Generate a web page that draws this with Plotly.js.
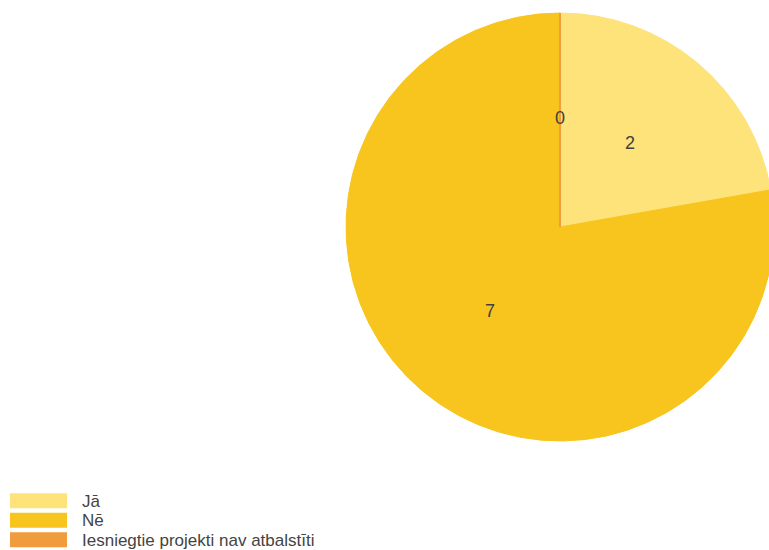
<!DOCTYPE html>
<html>
<head>
<meta charset="utf-8">
<script src="https://cdn.plot.ly/plotly-3.0.1.min.js"></script>
<style>
html,body{margin:0;padding:0;overflow:hidden;background:#fff;}
#chart{width:800px;height:550px;}
</style>
</head>
<body>
<div id="chart"></div>
<script>
const categories = ["Jā", "Nē", "Iesniegtie projekti nav atbalstīti"];
const values = [2, 7, 0];
const colors = ["#fde37a", "#f7c51d", "#ef9b3e"];

const W = 800, H = 550;
const px = x => x / W;
const py = y => 1 - y / H;

// pie geometry (pixels)
const cx = 560, cy = 227, R = 214;

const trace = {
  type: "pie",
  labels: categories,
  values: values,
  sort: false,
  direction: "clockwise",
  rotation: 0,
  textinfo: "none",
  marker: {colors: colors, line: {color: colors, width: 1}},
  showlegend: false,
  hoverinfo: "none",
  domain: {x: [px(cx - R), px(cx + R)], y: [py(cy + R), py(cy - R)]}
};

const shapes = [], annotations = [];

// slice value labels, placed from the data (mid-angle of each slice, half radius)
const total = values.reduce((a, b) => a + b, 0);
let cum = 0;
values.forEach((v, i) => {
  const a0 = cum / total * 2 * Math.PI;
  cum += v;
  const a1 = cum / total * 2 * Math.PI;
  const am = (a0 + a1) / 2;
  const r = 0.51 * R;
  annotations.push({xref: "paper", yref: "paper",
    x: px(cx + r * Math.sin(am)), y: py(cy - r * Math.cos(am)),
    xanchor: "center", yanchor: "middle", showarrow: false, text: String(v),
    font: {family: "Liberation Sans, Arial, sans-serif", size: 18, color: "#404040"}});
  if (v === 0) {
    // zero-size slice shown as a thin line
    shapes.push({type: "line", xref: "paper", yref: "paper",
      x0: px(cx), y0: py(cy), x1: px(cx + R * Math.sin(a0)), y1: py(cy - R * Math.cos(a0)),
      line: {color: colors[i], width: 1.5}});
  }
});

// custom legend built from the categories
const legTop = 493.3, legStep = 19.5, swW = 57, swH = 15, swX = 10, txtX = 82;
categories.forEach((c, i) => {
  const y0 = legTop + i * legStep;
  shapes.push({type: "rect", xref: "paper", yref: "paper",
    x0: px(swX), x1: px(swX + swW), y0: py(y0), y1: py(y0 + swH),
    fillcolor: colors[i], line: {width: 0}});
  annotations.push({xref: "paper", yref: "paper", x: px(txtX - 2), y: py(y0 + swH / 2 + 0.5),
    xanchor: "left", yanchor: "middle", showarrow: false, text: c,
    font: {family: "Liberation Sans, Arial, sans-serif", size: 17, color: "#444444"}});
});

const layout = {
  width: W, height: H,
  margin: {l: 0, r: 0, t: 0, b: 0},
  paper_bgcolor: "#ffffff",
  showlegend: false,
  hovermode: false,
  shapes: shapes,
  annotations: annotations
};

Plotly.newPlot("chart", [trace], layout, {displayModeBar: false, staticPlot: true});
</script>
</body>
</html>
